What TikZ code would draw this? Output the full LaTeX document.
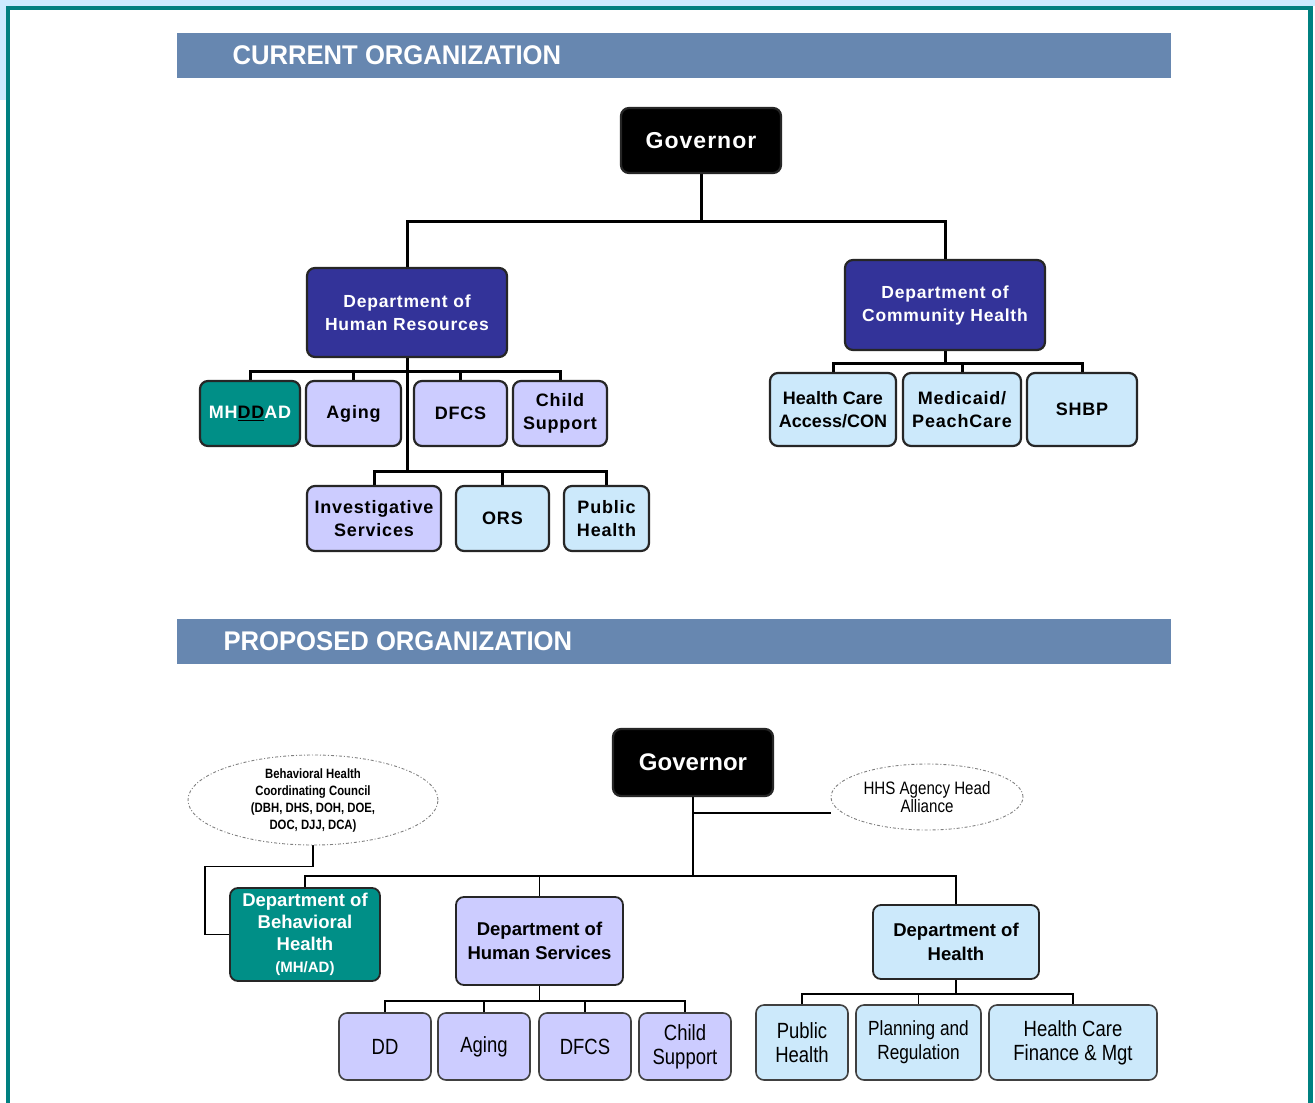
\documentclass[tikz,border=0pt]{standalone}
\usepackage{fontspec}
\setsansfont{Liberation Sans}
\newfontfamily\widesf[LetterSpace=4.5]{Liberation Sans}
\newfontfamily\narrowsf[FakeStretch=0.84]{Liberation Sans}
\newfontfamily\headsf[FakeStretch=0.95]{Liberation Sans}
\usetikzlibrary{shapes.geometric, backgrounds}

\definecolor{frameteal}{HTML}{008080}
\definecolor{stripblue}{HTML}{CCEBFF}
\definecolor{barblue}{HTML}{6787B0}
\definecolor{deptblue}{HTML}{333399}
\definecolor{boxteal}{HTML}{008F87}
\definecolor{lavender}{HTML}{CCCCFF}
\definecolor{paleblue}{HTML}{CCE9FB}

\tikzset{
	orgbox/.style={rounded corners=8pt, draw=black!85, line width=2.2pt, align=center,
		inner sep=0pt, font=\widesf\bfseries\fontsize{18}{23}\selectfont},
	newbox/.style={orgbox, line width=1.6pt, draw=black!75,
		font=\narrowsf\fontsize{22}{24}\selectfont},
	govbox/.style={orgbox, fill=black, text=white, minimum width=160pt},
	council/.style={ellipse, draw=gray, fill=white, line width=0.9pt,
		dash pattern=on 3pt off 2pt on 1pt off 2pt, inner sep=0pt, align=center},
	bar/.style={fill=barblue},
	bartext/.style={anchor=west, text=white, font=\headsf\bfseries\fontsize{27}{28}\selectfont},
	wire/.style={line width=3pt},
	thinwire/.style={line width=1.8pt}
}

\begin{document}
\begin{tikzpicture}[x=1pt, y=-1pt]

	\useasboundingbox (0,0) rectangle (1315,1103);

	% 1. Page frame and section bars
	\begin{scope}[on background layer]
		\fill[white] (0,0) rectangle (1315,1103);
		\fill[stripblue] (0,0) rectangle (1315,6);
		\fill[stripblue] (0,0) rectangle (6,100);
		\fill[frameteal] (6,6) rectangle (1313,10);
		\fill[frameteal] (6,6) rectangle (10,1103);
		\fill[frameteal] (1308,6) rectangle (1313,1103);
		\fill[bar] (177,33) rectangle (1171,78);
		\fill[bar] (177,619) rectangle (1171,664);
	\end{scope}
	\node[bartext] (curhead) at (229,55) {CURRENT ORGANIZATION};
	\node[bartext] (prophead) at (220,641) {PROPOSED ORGANIZATION};

	% 2. Current organization
	\node[govbox, minimum height=65pt, font=\widesf\bfseries\fontsize{23}{26}\selectfont]
		(gov1) at (701,140.5) {Governor};

	\node[orgbox, fill=deptblue, text=white, minimum width=200pt, minimum height=89pt,
		font=\widesf\bfseries\fontsize{17.5}{23}\selectfont]
		(dhr) at (407,312.5) {Department of\\Human Resources};
	\node[orgbox, fill=deptblue, text=white, minimum width=200pt, minimum height=90pt,
		font=\widesf\bfseries\fontsize{17.5}{23}\selectfont]
		(dch) at (945,305) {Department of\\Community Health};

	\node[orgbox, fill=boxteal, minimum width=100pt, minimum height=65pt]
		(mhddad) at (250,413.5) {\textcolor{white}{MH}\underline{DD}\textcolor{white}{AD}};
	\node[orgbox, fill=lavender, minimum width=95pt, minimum height=65pt]
		(aging1) at (353.5,413.5) {Aging};
	\node[orgbox, fill=lavender, minimum width=93pt, minimum height=65pt]
		(dfcs1) at (460.5,413.5) {DFCS};
	\node[orgbox, fill=lavender, minimum width=94pt, minimum height=65pt]
		(child1) at (560,413.5) {Child\\Support};

	\node[orgbox, fill=lavender, minimum width=134pt, minimum height=65pt]
		(invest) at (374,518.5) {Investigative\\Services};
	\node[orgbox, fill=paleblue, minimum width=93pt, minimum height=65pt]
		(ors) at (502.5,518.5) {ORS};
	\node[orgbox, fill=paleblue, minimum width=85pt, minimum height=65pt]
		(pubh1) at (606.5,518.5) {Public\\Health};

	\node[orgbox, fill=paleblue, minimum width=126pt, minimum height=73pt,
		font=\sffamily\bfseries\fontsize{18}{23}\selectfont]
		(hcacc) at (833,409.5) {Health Care\\Access/CON};
	\node[orgbox, fill=paleblue, minimum width=118pt, minimum height=73pt]
		(medicaid) at (962,409.5) {Medicaid/\\PeachCare};
	\node[orgbox, fill=paleblue, minimum width=110pt, minimum height=73pt]
		(shbp) at (1082,409.5) {SHBP};

	% 3. Proposed organization
	\node[govbox, minimum height=67pt, font=\sffamily\bfseries\fontsize{24}{26}\selectfont]
		(gov2) at (693,762.5) {Governor};

	\node[council, minimum width=250pt, minimum height=90pt,
		font=\narrowsf\bfseries\fontsize{13.5}{17}\selectfont]
		(bhcc) at (313,800) {Behavioral Health\\Coordinating Council\\(DBH, DHS, DOH, DOE,\\DOC, DJJ, DCA)};
	\node[council, minimum width=192pt, minimum height=66pt,
		font=\narrowsf\fontsize{18}{18}\selectfont]
		(hhs) at (927,797) {HHS Agency Head\\Alliance};

	\node[orgbox, line width=1.8pt, fill=boxteal, text=white, minimum width=150pt, minimum height=93pt,
		font=\sffamily\bfseries\fontsize{18.5}{22}\selectfont]
		(dbh) at (305,934.5) {Department of\\Behavioral\\Health\\{\fontsize{15}{22}\selectfont(MH/AD)}};
	\node[orgbox, line width=1.8pt, fill=lavender, minimum width=167pt, minimum height=88pt,
		font=\sffamily\bfseries\fontsize{18.5}{24}\selectfont]
		(dhs) at (539.5,941) {Department of\\Human Services};
	\node[orgbox, line width=1.8pt, fill=paleblue, minimum width=166pt, minimum height=74pt,
		font=\sffamily\bfseries\fontsize{18.5}{24}\selectfont]
		(doh) at (956,942) {Department of\\Health};

	\node[newbox, fill=lavender, minimum width=92pt, minimum height=67pt] (dd) at (385,1046.5) {DD};
	\node[newbox, fill=lavender, minimum width=92pt, minimum height=67pt] (aging2) at (484,1046.5) {Aging};
	\node[newbox, fill=lavender, minimum width=92pt, minimum height=67pt] (dfcs2) at (585,1046.5) {DFCS};
	\node[newbox, fill=lavender, minimum width=92pt, minimum height=67pt] (child2) at (685,1046.5) {Child\\Support};

	\node[newbox, fill=paleblue, minimum width=92pt, minimum height=75pt] (pubh2) at (802,1042.5) {Public\\Health};
	\node[newbox, fill=paleblue, minimum width=125pt, minimum height=75pt,
		font=\narrowsf\fontsize{20.5}{24}\selectfont] (plan) at (918.5,1042.5) {Planning and\\Regulation};
	\node[newbox, fill=paleblue, minimum width=168pt, minimum height=75pt] (hcfin) at (1073,1042.5) {Health Care\\Finance \& Mgt};

	% 4. Connectors (behind the boxes)
	\begin{scope}[on background layer]
		\draw[wire] (gov1.south) -- ++(0,47) -| (dhr.north);
		\draw[wire] (gov1.south) -- ++(0,47) -| (dch.north);
		\foreach \c in {mhddad, aging1, dfcs1, child1}
			\draw[wire] (dhr.south) -- ++(0,13) -| (\c.north);
		\foreach \c in {invest, ors, pubh1}
			\draw[wire] (dhr.south) -- ++(0,113) -| (\c.north);
		\foreach \c in {hcacc, medicaid, shbp}
			\draw[wire] (dch.south) -- ++(0,12) -| (\c.north);

		\draw[thinwire] (gov2.south) -- ++(0,16) coordinate (tap) -- (tap -| hhs.west);
		\foreach \c in {dbh, dhs, doh}
			\draw[thinwire] (gov2.south) -- ++(0,79) -| (\c.north);
		\draw[thinwire] (bhcc.south) -- ++(0,21) -| ([xshift=-24pt]dbh.west) -- (dbh.west);
		\foreach \c in {dd, aging2, dfcs2, child2}
			\draw[thinwire] (dhs.south) -- ++(0,15) -| (\c.north);
		\foreach \c in {pubh2, plan, hcfin}
			\draw[thinwire] (doh.south) -- ++(0,14) -| (\c.north);
	\end{scope}

\end{tikzpicture}
\end{document}
